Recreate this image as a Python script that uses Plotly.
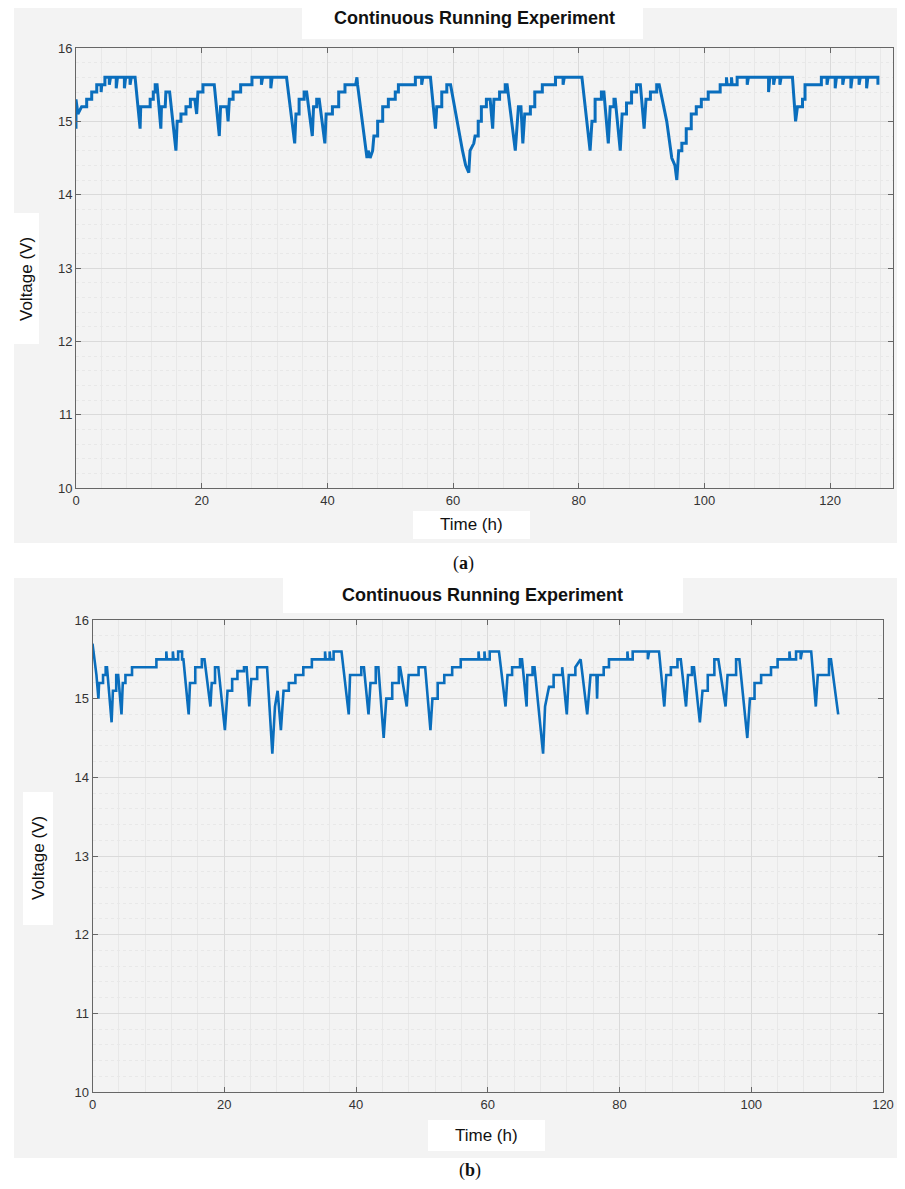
import plotly.graph_objects as go

# page is 905x1189; browser body margin of 8px surrounds the figure
PAGE_W, PAGE_H = 905, 1189
OFF = 8
W, H = PAGE_W - 2 * OFF, PAGE_H - 2 * OFF

# ---------------- data ----------------
# (time h, voltage V) for panel (a)
trace_a = [
    (0.0, 14.9), (0.0, 15.3), (0.3, 15.1), (0.9, 15.2), (1.7, 15.2), (1.7, 15.3),
    (2.5, 15.3), (2.5, 15.4), (3.3, 15.4), (3.3, 15.5), (4.0, 15.5), (4.0, 15.4),
    (4.1, 15.5), (4.6, 15.5), (4.6, 15.6), (5.3, 15.6), (5.3, 15.5), (5.5, 15.6),
    (6.4, 15.6), (6.4, 15.45), (6.6, 15.6), (7.7, 15.6), (7.7, 15.45), (7.9, 15.6),
    (8.6, 15.6), (8.6, 15.5), (8.8, 15.6), (9.4, 15.6),
    (10.2, 14.9), (10.3, 15.2), (11.8, 15.2), (11.8, 15.3), (12.3, 15.3), (12.3, 15.4),
    (12.6, 15.4), (12.6, 15.5), (12.9, 15.5), (13.5, 14.9), (13.6, 15.2), (14.2, 15.2),
    (14.3, 15.4), (14.9, 15.4), (15.9, 14.6), (16.1, 15.0), (16.7, 15.0), (16.7, 15.1),
    (17.5, 15.1), (17.5, 15.2), (18.2, 15.2), (18.2, 15.3), (18.9, 15.3), (19.2, 15.1),
    (19.4, 15.4), (20.2, 15.4), (20.2, 15.5), (22.0, 15.5), (22.8, 14.8), (23.0, 15.2),
    (24.0, 15.2), (24.2, 15.0), (24.4, 15.3), (25.0, 15.3), (25.0, 15.4), (26.2, 15.4),
    (26.2, 15.5), (28.0, 15.5), (28.0, 15.6), (29.5, 15.6), (29.5, 15.5), (29.7, 15.6),
    (31.0, 15.6), (31.0, 15.45), (31.2, 15.6), (33.5, 15.6),
    (34.8, 14.7), (35.0, 15.1), (35.5, 15.1), (35.5, 15.3), (36.3, 15.3), (36.3, 15.4),
    (36.7, 15.4), (37.6, 14.8), (37.8, 15.2), (38.3, 15.2), (38.3, 15.3), (38.7, 15.3),
    (39.6, 14.7), (39.8, 15.1), (40.8, 15.1), (40.8, 15.2), (41.8, 15.2), (41.8, 15.4),
    (42.8, 15.4), (42.8, 15.5), (44.5, 15.5), (44.7, 15.6), (44.8, 15.5),
    (46.3, 14.5), (46.5, 14.6), (46.8, 14.5), (47.2, 14.6), (47.4, 14.8), (48.0, 14.8),
    (48.0, 15.0), (48.8, 15.0), (48.8, 15.2), (49.7, 15.2), (49.7, 15.3), (50.8, 15.3),
    (50.8, 15.4), (51.3, 15.4), (51.3, 15.5), (54.0, 15.5), (54.0, 15.6), (55.0, 15.6),
    (55.0, 15.5), (55.2, 15.6), (56.4, 15.6),
    (57.2, 14.9), (57.4, 15.2), (58.2, 15.2), (58.2, 15.4), (59.0, 15.4), (59.0, 15.5),
    (59.6, 15.5), (61.5, 14.6), (62.0, 14.4), (62.5, 14.3), (62.7, 14.6), (63.3, 14.7),
    (63.5, 14.8), (64.0, 14.8), (64.0, 15.0), (64.5, 15.0), (64.5, 15.2), (65.3, 15.2),
    (65.3, 15.3), (65.9, 15.3), (66.3, 14.9), (66.5, 15.3), (67.4, 15.3), (67.4, 15.4),
    (68.3, 15.4), (68.3, 15.5), (68.6, 15.5), (69.9, 14.6), (70.2, 15.0), (70.4, 15.2),
    (70.8, 15.2), (71.1, 14.7), (71.4, 15.1), (72.3, 15.1), (72.3, 15.2), (73.0, 15.2),
    (73.0, 15.4), (74.2, 15.4), (74.2, 15.5), (76.3, 15.5), (76.3, 15.6), (77.5, 15.6),
    (77.5, 15.5), (77.7, 15.6), (80.5, 15.6),
    (81.8, 14.6), (82.1, 15.0), (82.6, 15.0), (82.6, 15.3), (83.6, 15.3), (83.6, 15.4),
    (84.0, 15.4), (84.7, 14.7), (85.0, 15.2), (85.6, 15.2), (85.6, 15.3), (85.8, 15.3),
    (86.6, 14.6), (86.9, 15.1), (87.6, 15.1), (87.6, 15.25), (88.4, 15.25), (88.4, 15.4),
    (89.2, 15.4), (89.2, 15.5), (89.8, 15.5), (90.4, 14.9), (90.7, 15.3), (91.4, 15.3),
    (91.4, 15.4), (92.4, 15.4), (92.4, 15.5), (92.8, 15.5), (94.0, 15.0), (94.8, 14.5),
    (95.3, 14.4), (95.6, 14.2), (95.9, 14.6), (96.4, 14.6), (96.4, 14.7), (97.1, 14.7),
    (97.1, 14.9), (97.9, 14.9), (97.9, 15.1), (98.7, 15.1), (98.7, 15.2), (99.5, 15.2),
    (99.5, 15.3), (100.6, 15.3), (100.6, 15.4), (102.5, 15.4), (102.5, 15.5),
    (103.5, 15.5), (103.5, 15.6), (103.6, 15.5), (104.3, 15.5), (104.3, 15.6),
    (104.4, 15.5), (105.2, 15.5), (105.2, 15.6), (106.8, 15.6), (106.8, 15.5),
    (107.0, 15.6), (110.2, 15.6), (110.2, 15.4), (110.4, 15.6), (111.0, 15.6),
    (111.0, 15.5), (111.2, 15.6), (112.0, 15.6), (112.0, 15.5), (112.2, 15.6),
    (114.0, 15.6),
    (114.5, 15.0), (114.8, 15.2), (115.6, 15.2), (115.6, 15.3), (116.0, 15.3),
    (116.0, 15.5), (118.6, 15.5), (118.6, 15.6), (119.5, 15.6), (119.5, 15.5),
    (119.7, 15.6), (120.8, 15.6), (120.8, 15.45), (121.0, 15.6), (122.0, 15.6),
    (122.0, 15.5), (122.2, 15.6), (123.3, 15.6), (123.3, 15.45), (123.5, 15.6),
    (124.6, 15.6), (124.6, 15.5), (124.8, 15.6), (125.8, 15.6), (125.8, 15.45),
    (126.0, 15.6), (127.6, 15.6), (127.6, 15.5),
]

# (time h, voltage V) for panel (b)
trace_b = [
    (0.0, 15.7), (0.4, 15.45), (0.6, 15.3), (0.9, 15.0), (1.0, 15.2), (1.6, 15.2),
    (1.6, 15.3), (2.0, 15.3), (2.0, 15.4), (2.2, 15.4), (2.9, 14.7), (3.1, 15.1),
    (3.6, 15.1), (3.6, 15.3), (3.9, 15.3), (4.4, 14.8), (4.6, 15.2), (5.0, 15.2),
    (5.0, 15.3), (6.0, 15.3), (6.0, 15.4), (9.7, 15.4), (9.7, 15.5), (11.2, 15.5),
    (11.2, 15.6), (11.3, 15.5), (12.2, 15.5), (12.2, 15.6), (12.3, 15.5), (13.0, 15.5),
    (13.0, 15.6), (13.6, 15.6), (13.6, 15.5), (13.8, 15.5),
    (14.6, 14.8), (14.8, 15.2), (15.6, 15.2), (15.6, 15.4), (16.6, 15.4), (16.6, 15.5),
    (17.0, 15.5), (17.9, 14.9), (18.1, 15.2), (18.6, 15.2), (18.6, 15.4), (19.1, 15.4),
    (20.1, 14.6), (20.5, 15.1), (21.2, 15.1), (21.2, 15.25), (22.0, 15.25),
    (22.0, 15.35), (23.0, 15.35), (23.0, 15.4), (23.4, 15.4), (23.8, 14.9),
    (24.1, 15.25), (25.0, 15.25), (25.0, 15.4), (26.5, 15.4), (27.3, 14.3),
    (27.7, 14.9), (28.1, 15.1), (28.6, 14.6), (29.0, 15.1), (29.8, 15.1), (29.8, 15.2),
    (30.8, 15.2), (30.8, 15.3), (32.0, 15.3), (32.0, 15.4), (33.3, 15.4), (33.3, 15.5),
    (35.3, 15.5), (35.3, 15.6), (35.4, 15.5), (36.0, 15.5), (36.0, 15.6), (36.1, 15.5),
    (36.6, 15.5), (36.6, 15.6), (37.8, 15.6),
    (38.9, 14.8), (39.1, 15.3), (40.8, 15.3), (40.8, 15.4), (41.2, 15.4), (41.9, 14.8),
    (42.2, 15.2), (43.0, 15.2), (43.0, 15.4), (43.4, 15.4), (44.2, 14.5), (44.6, 15.0),
    (45.5, 15.0), (45.5, 15.2), (46.5, 15.2), (46.5, 15.4), (46.7, 15.4), (47.7, 14.9),
    (48.0, 15.3), (49.5, 15.3), (49.5, 15.4), (50.5, 15.4), (51.3, 14.6), (51.6, 15.0),
    (52.4, 15.0), (52.4, 15.2), (53.4, 15.2), (53.4, 15.3), (54.6, 15.3), (54.6, 15.4),
    (55.9, 15.4), (55.9, 15.5), (58.6, 15.5), (58.6, 15.6), (58.7, 15.5), (59.5, 15.5),
    (59.5, 15.6), (59.6, 15.5), (60.3, 15.5), (60.3, 15.6), (61.7, 15.6),
    (62.7, 14.9), (63.0, 15.3), (63.7, 15.3), (63.7, 15.4), (64.9, 15.4), (64.9, 15.5),
    (65.2, 15.5), (65.9, 14.9), (66.0, 15.3), (66.8, 15.3), (66.8, 15.4), (67.1, 15.4),
    (68.4, 14.3), (68.7, 14.9), (69.3, 15.15), (70.0, 15.15), (70.0, 15.3),
    (71.3, 15.3), (71.3, 15.4), (72.0, 14.8), (72.3, 15.3), (73.3, 15.3), (73.3, 15.4),
    (74.1, 15.5), (75.1, 14.8), (75.6, 15.3), (76.5, 15.3), (76.6, 15.0), (76.7, 15.3),
    (77.6, 15.3), (77.6, 15.4), (78.4, 15.4), (78.4, 15.5), (81.2, 15.5), (81.2, 15.6),
    (81.3, 15.5), (82.0, 15.5), (82.0, 15.6), (84.3, 15.6), (84.3, 15.5), (84.5, 15.6),
    (86.0, 15.6),
    (86.8, 14.9), (87.1, 15.3), (87.8, 15.3), (87.8, 15.4), (88.8, 15.4), (88.8, 15.5),
    (89.3, 15.5), (90.1, 14.9), (90.4, 15.3), (91.0, 15.3), (91.0, 15.4), (91.3, 15.4),
    (92.2, 14.7), (92.6, 15.1), (93.4, 15.1), (93.4, 15.3), (94.4, 15.3), (94.4, 15.5),
    (95.0, 15.5), (96.1, 14.9), (96.4, 15.3), (97.7, 15.3), (97.7, 15.5), (98.2, 15.5),
    (99.4, 14.5), (99.8, 15.0), (100.5, 15.0), (100.5, 15.2), (101.5, 15.2),
    (101.5, 15.3), (103.0, 15.3), (103.0, 15.4), (104.0, 15.4), (104.0, 15.5),
    (105.8, 15.5), (105.8, 15.6), (105.9, 15.5), (106.8, 15.5), (106.8, 15.6),
    (107.5, 15.6), (107.5, 15.5), (107.7, 15.6), (109.1, 15.6),
    (109.8, 14.9), (110.1, 15.3), (111.8, 15.3), (111.8, 15.5), (112.1, 15.5),
    (112.6, 15.2), (113.2, 14.8),
]

title_text = "Continuous Running Experiment"
x_title = "Time (h)"
y_title = "Voltage (V)"
x_ticks_a = [0, 20, 40, 60, 80, 100, 120]
x_ticks_b = [0, 20, 40, 60, 80, 100, 120]
y_ticks = [10, 11, 12, 13, 14, 15, 16]

# ---------------- figure ----------------
def px_x(p):
    return (p - OFF) / W

def px_y(p):
    return 1 - (p - OFF) / H

LINE = "#0a6ebd"
fig = go.Figure()

ta, va = zip(*trace_a)
tb, vb = zip(*trace_b)
fig.add_trace(go.Scatter(x=list(ta), y=list(va), mode="lines", xaxis="x", yaxis="y",
                         line=dict(color=LINE, width=3), showlegend=False))
fig.add_trace(go.Scatter(x=list(tb), y=list(vb), mode="lines", xaxis="x2", yaxis="y2",
                         line=dict(color=LINE, width=2.6), showlegend=False))

tickfont = dict(family="Liberation Sans, Arial, sans-serif", size=13, color="#333333")

def xaxis(domain, rng, ticks, anchor):
    return dict(domain=domain, range=rng, anchor=anchor, tickvals=ticks,
                showgrid=True, gridcolor="#dadada", gridwidth=1,
                minor=dict(dtick=4, tick0=0, showgrid=True, gridcolor="#e8e8e8", gridwidth=1),
                showline=True, linecolor="#666666", linewidth=1, mirror="ticks",
                ticks="inside", ticklen=5, tickcolor="#666666",
                tickfont=tickfont, zeroline=False, fixedrange=True, automargin=False)

def yaxis(domain, anchor):
    return dict(domain=domain, range=[10, 16], anchor=anchor, tickvals=y_ticks,
                showgrid=True, gridcolor="#dadada", gridwidth=1,
                minor=dict(dtick=0.2, tick0=10, showgrid=True, gridcolor="#e8e8e8",
                           gridwidth=1, griddash="dot"),
                showline=True, linecolor="#666666", linewidth=1, mirror="ticks",
                ticks="inside", ticklen=5, tickcolor="#666666",
                tickfont=tickfont, zeroline=False, fixedrange=True, automargin=False)

fig.update_layout(
    width=W, height=H, margin=dict(l=0, r=0, t=0, b=0, autoexpand=False),
    paper_bgcolor="white", plot_bgcolor="#fafafa",
    xaxis=xaxis([px_x(76), px_x(893)], [0, 130], x_ticks_a, "y"),
    yaxis=yaxis([px_y(488), px_y(48)], "x"),
    xaxis2=xaxis([px_x(92.5), px_x(883)], [0, 120], x_ticks_b, "y2"),
    yaxis2=yaxis([px_y(1092), px_y(620)], "x2"),
    showlegend=False,
)

def rect(x0, x1, y0, y1, color):
    return dict(type="rect", xref="paper", yref="paper",
                x0=px_x(x0), x1=px_x(x1), y0=px_y(y1), y1=px_y(y0),
                fillcolor=color, line=dict(width=0), layer="below")

shapes = [
    rect(14, 905, 8, 543, "#f3f3f3"),      # panel (a) background
    rect(14, 905, 578, 1158, "#f3f3f3"),   # panel (b) background
    rect(302, 643, 8, 39, "white"),        # title boxes
    rect(283, 683, 578, 613, "white"),
    rect(413, 530, 511, 539, "white"),     # x-title boxes
    rect(428, 545, 1120, 1151, "white"),
    rect(13, 39, 213, 344, "white"),       # y-title boxes
    rect(23, 53, 792, 925, "white"),
]
fig.update_layout(shapes=shapes)

titlefont = dict(family="Liberation Sans, Arial", size=18, color="#111111")
labfont = dict(family="Liberation Sans, Arial", size=17, color="#111111")
capfont = dict(family="Liberation Serif, DejaVu Serif, serif", size=18, color="#111111")

ann = [
    dict(x=px_x(474), y=px_y(18), text="<b>" + title_text + "</b>", font=titlefont),
    dict(x=px_x(482), y=px_y(595), text="<b>" + title_text + "</b>", font=titlefont),
    dict(x=px_x(471), y=px_y(524), text=x_title, font=labfont),
    dict(x=px_x(486), y=px_y(1135), text=x_title, font=labfont),
    dict(x=px_x(27), y=px_y(279), text=y_title, font=labfont, textangle=-90),
    dict(x=px_x(38), y=px_y(858), text=y_title, font=labfont, textangle=-90),
    dict(x=px_x(463), y=px_y(563), text="(<b>a</b>)", font=capfont),
    dict(x=px_x(470), y=px_y(1170), text="(<b>b</b>)", font=capfont),
]
for a in ann:
    a.update(xref="paper", yref="paper", showarrow=False, xanchor="center", yanchor="middle")
fig.update_layout(annotations=ann)

fig.write_html("out.html")
